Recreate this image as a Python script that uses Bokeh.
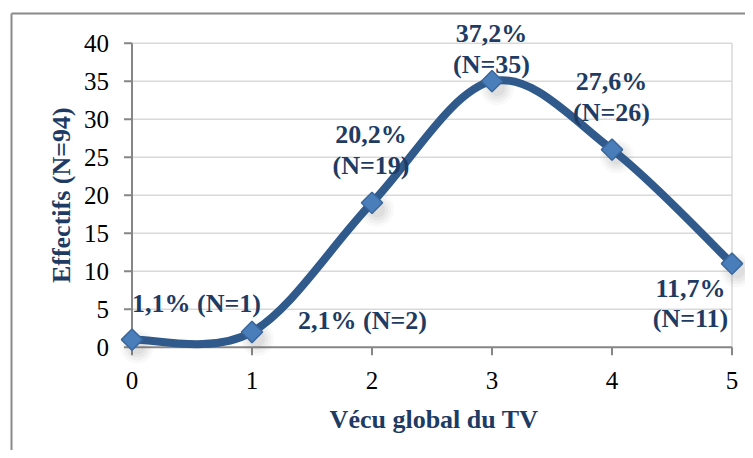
import numpy as np
from bokeh.plotting import figure
from bokeh.models import Range1d, ColumnDataSource
from bokeh.core.properties import value
from bokeh.embed import file_html
from bokeh.resources import INLINE

# ---- data ----
scores = [0, 1, 2, 3, 4, 5]
effectifs = [1, 2, 19, 35, 26, 11]
labels = ["1,1% (N=1)", "2,1% (N=2)", "20,2%\n(N=19)", "37,2%\n(N=35)", "27,6%\n(N=26)", "11,7%\n(N=11)"]
y_ticks = [0, 5, 10, 15, 20, 25, 30, 35, 40]
x_ticks = [0, 1, 2, 3, 4, 5]
y_tick_labels = [str(v) for v in y_ticks]
x_tick_labels = [str(v) for v in x_ticks]
x_title = "Vécu global du TV"
y_title = "Effectifs (N=94)"

# ---- layout / style constants (pixels) ----
W, H = 745, 450
OX, OY = 131.5, 346.7        # canvas position of data origin
PX_X, PX_Y = 120.0, 7.6      # pixels per data unit
lab_dx = [0, 46, -1, -0.5, -0.5, -41.5]
lab_dy = [-36, -11.5, -53, -32, -52.5, 40]
lab_align = ["left", "left", "center", "center", "center", "center"]

NAVY = "#1D3B63"
LINE = "#30598C"
AXIS = "#868686"
GRID = "#D9D9D9"
FONT = "Liberation Serif"

x0r, x1r = -OX / PX_X, (W - OX) / PX_X
y1r, y0r = OY / PX_Y, -(H - OY) / PX_Y

# smooth curve (Catmull-Rom -> cubic Bezier, like Excel's smoothed line)
x = np.array(scores, float)
y = np.array(effectifs, float)
n = len(x)
xp = np.concatenate([[x[0]], x, [x[-1]]])
yp = np.concatenate([[y[0]], y, [y[-1]]])
seg = dict(x0=[], y0=[], x1=[], y1=[], cx0=[], cy0=[], cx1=[], cy1=[])
for i in range(n - 1):
    j = i + 1
    seg["x0"].append(x[i]); seg["y0"].append(y[i])
    seg["x1"].append(x[i + 1]); seg["y1"].append(y[i + 1])
    seg["cx0"].append(x[i] + (xp[j + 1] - xp[j - 1]) / 6)
    seg["cy0"].append(y[i] + (yp[j + 1] - yp[j - 1]) / 6)
    seg["cx1"].append(x[i + 1] - (xp[j + 2] - xp[j]) / 6)
    seg["cy1"].append(y[i + 1] - (yp[j + 2] - yp[j]) / 6)

p = figure(width=W, height=H, output_backend="svg", toolbar_location=None,
           x_range=Range1d(x0r, x1r), y_range=Range1d(y0r, y1r),
           x_axis_location=None, y_axis_location=None,
           min_border=0, min_border_left=0, min_border_right=0,
           min_border_top=0, min_border_bottom=0)
p.outline_line_color = None
p.grid.visible = False

# outer chart border (left & top visible)
bx = x0r + 11 / PX_X
by = y1r - 13 / PX_Y
p.segment(x0=[bx, bx], y0=[by, by], x1=[bx, x1r], y1=[y0r, by], line_color="#8A8A8A", line_width=2)

# gridlines within plot area
ng = len(y_ticks) - 1
p.segment(x0=[x_ticks[0]] * ng, y0=y_ticks[1:], x1=[x_ticks[-1]] * ng, y1=y_ticks[1:],
          line_color=GRID, line_width=1.5)
p.segment(x0=[x_ticks[-1]], y0=[y_ticks[0]], x1=[x_ticks[-1]], y1=[y_ticks[-1]],
          line_color=GRID, line_width=1.5)

# axes lines and ticks
p.segment(x0=[x_ticks[0], x_ticks[0]], y0=[y_ticks[0], y_ticks[0]],
          x1=[x_ticks[-1], x_ticks[0]], y1=[y_ticks[0], y_ticks[-1]],
          line_color=AXIS, line_width=2)
p.ray(x=[x_ticks[0]] * len(y_ticks), y=y_ticks, length=8, length_units="screen",
      angle=np.pi, line_color=AXIS, line_width=2)
p.ray(x=x_ticks, y=[y_ticks[0]] * len(x_ticks), length=8, length_units="screen",
      angle=-np.pi / 2, line_color=AXIS, line_width=2)

# tick labels
p.text(x=[x_ticks[0]] * len(y_ticks), y=y_ticks, text=y_tick_labels, x_offset=-23,
       text_align="right", text_baseline="middle", text_font=value(FONT),
       text_font_size="25px", text_color="black")
p.text(x=x_ticks, y=[y_ticks[0]] * len(x_ticks), text=x_tick_labels, y_offset=33,
       text_align="center", text_baseline="middle", text_font=value(FONT),
       text_font_size="25px", text_color="black")

# axis titles
p.text(x=[(x_ticks[0] + x_ticks[-1]) / 2], y=[y_ticks[0]], text=[x_title], x_offset=2, y_offset=72,
       text_align="center", text_baseline="middle", text_font=value(FONT),
       text_font_size="26px", text_font_style="bold", text_color=NAVY)
p.text(x=[x_ticks[0]], y=[(y_ticks[0] + y_ticks[-1]) / 2], text=[y_title], x_offset=-70.5,
       angle=np.pi / 2, text_align="center", text_baseline="middle", text_font=value(FONT),
       text_font_size="26px", text_font_style="bold", text_color=NAVY)

# soft marker shadows
sx = [v + 5 / PX_X for v in scores]
sy = [v - 7 / PX_Y for v in effectifs]
for s, a in ((34, 0.04), (28, 0.05), (22, 0.06), (16, 0.07)):
    p.scatter(x=sx, y=sy, marker="circle", size=s, fill_color="#606060", fill_alpha=a, line_color=None)

src = ColumnDataSource(seg)
p.bezier(x0="x0", y0="y0", x1="x1", y1="y1", cx0="cx0", cy0="cy0", cx1="cx1", cy1="cy1",
         source=src, line_color=LINE, line_width=8, line_cap="round")

p.scatter(x=scores, y=effectifs, marker="square", angle=np.pi / 4, size=15,
          fill_color="#4A7EBB", line_color="#3A679C", line_width=1.5)

lsrc = ColumnDataSource(dict(x=scores, y=effectifs, t=labels, dx=lab_dx, dy=lab_dy, al=lab_align))
p.text(x="x", y="y", text="t", x_offset="dx", y_offset="dy", text_align="al",
       text_baseline="middle", source=lsrc, text_font=value(FONT), text_font_size="26px",
       text_font_style="bold", text_color=NAVY, text_line_height=1.05)

open("out.html", "w").write(file_html(p, INLINE))
